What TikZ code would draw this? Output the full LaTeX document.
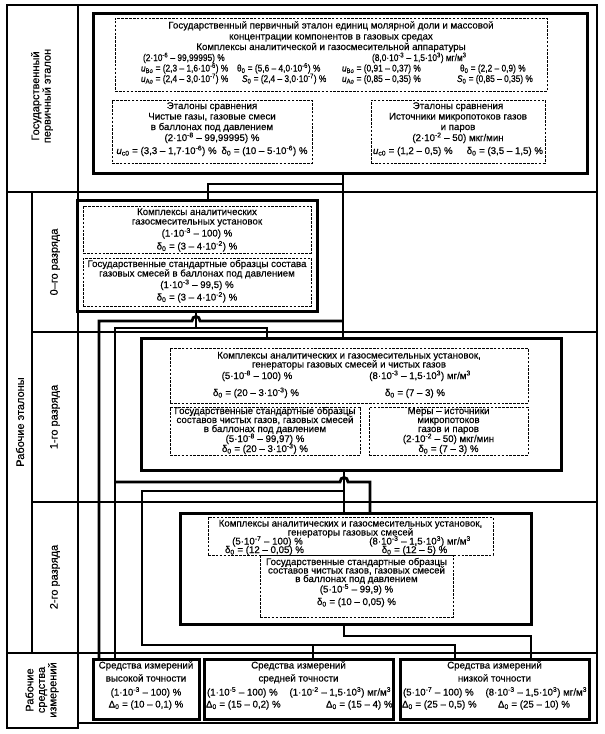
\documentclass[tikz,border=0pt]{standalone}
\usepackage{fontspec}
\setmainfont{Liberation Sans}[FakeBold=0.35]
\newfontfamily\cndfont{Liberation Sans}[FakeStretch=0.86,FakeBold=0.35]
\newcommand\xsp[1]{\textsuperscript{#1}}
\newcommand\xsb[1]{\textsubscript{#1}}
\newcommand\xTC[4]{\node[txt,anchor=base] (#1) at (#2,#3) {#4};}
\newcommand\xTW[4]{\node[txt,anchor=base west] (#1) at (#2,#3) {#4};}
\newcommand\xTE[4]{\node[txt,anchor=base east] (#1) at (#2,#3) {#4};}
\newcommand\xCW[4]{\node[txtc,anchor=base west] (#1) at (#2,#3) {#4};}
\newcommand\xBX[6]{\node[#2,minimum width={(#5-#3)*1pt},minimum height={(#6-#4)*1pt}] (#1) at ({(#3+#5)/2},{(#4+#6)/2}) {};}
\begin{document}
\begin{tikzpicture}[x=1pt,y=-1pt,
  txt/.style={inner sep=0pt,outer sep=0pt,font=\fontsize{9.7}{10}\selectfont},
  txtc/.style={inner sep=0pt,outer sep=0pt,font=\cndfont\fontsize{9.7}{10}\selectfont},
  lbl/.style={inner sep=0pt,outer sep=0pt,font=\fontsize{11}{11.5}\selectfont,rotate=90,align=center},
  bigbox/.style={draw,line width=3pt,inner sep=0pt,outer sep=0pt},
  dbox/.style={draw,line width=0.9pt,dash pattern=on 2.6pt off 1.3pt,inner sep=0pt,outer sep=0pt},
  gridline/.style={line width=1.5pt},
  conn/.style={line width=2.8pt,line join=miter},
]
\useasboundingbox (0,0) rectangle (605,734);
% ---------- table frame ----------
\draw[gridline] (78,723) -- (597,723) -- (597,5) -- (7,5) -- (7,728) -- (78,728) -- (78,5);
\draw[gridline] (7,192) -- (597,192);
\draw[gridline] (32,332) -- (597,332);
\draw[gridline] (32,502) -- (597,502);
\draw[gridline] (7,653) -- (597,653);
\draw[gridline] (32,192) -- (32,653);
% ---------- row labels ----------
\node[lbl] (L1) at (42,96) {Государственный\\первичный эталон};
\node[lbl] (L2) at (20,422) {Рабочие эталоны};
\node[lbl] (L3) at (55,262) {0–го разряда};
\node[lbl] (L4) at (55,417) {1-го разряда};
\node[lbl] (L5) at (55,577) {2-го разряда};
\node[lbl] (L6) at (42,690) {Рабочие\\средства\\измерений};
% ---------- boxes ----------
\xBX{top}{bigbox}{93}{13}{587}{173}
\xBX{td1}{dbox}{115}{18}{547}{91}
\xBX{td2}{dbox}{112}{100}{312}{163}
\xBX{td3}{dbox}{371}{100}{545}{163}
\xBX{z}{bigbox}{77}{200}{317}{311}
\xBX{zd1}{dbox}{83}{206}{311}{253}
\xBX{zd2}{dbox}{83}{258}{311}{306}
\xBX{r1}{bigbox}{141}{338}{561}{470}
\xBX{r1d1}{dbox}{170}{348}{528}{403}
\xBX{r1d2}{dbox}{170}{407}{360}{455}
\xBX{r1d3}{dbox}{369}{407}{528}{455}
\xBX{r2}{bigbox}{180}{513}{531}{624}
\xBX{r2d1}{dbox}{208}{517}{493}{555}
\xBX{r2d2}{dbox}{260}{555}{453}{617}
\xBX{b1}{bigbox}{93}{659}{199}{719}
\xBX{b2}{bigbox}{204}{659}{393}{719}
\xBX{b3}{bigbox}{400}{659}{589}{719}
% ---------- primary standard texts ----------
\xTC{t1}{331}{28.5}{Государственный первичный эталон единиц молярной доли и массовой}
\xTC{t2}{331}{39.5}{концентрации компонентов в газовых средах}
\xTC{t3}{331}{50}{Комплексы аналитической и газосмесительной аппаратуры}
\xCW{t4a}{143}{61}{(2·10\xsp{-6} – 99,99995) \%}
\xCW{t4b}{372}{61}{(8,0·10\xsp{-3} – 1,5·10\xsp{3}) мг/м\xsp{3}}
\xCW{t5a}{141}{71.5}{\textit{u}\xsb{Bo} = (2,3 – 1,6·10\xsp{-6}) \%}
\xCW{t5b}{237}{71.5}{θ\xsb{0} = (5,6 – 4,0·10\xsp{-6}) \%}
\xCW{t5c}{342}{71.5}{\textit{u}\xsb{Bo} = (0,91 – 0,37) \%}
\xCW{t5d}{460}{71.5}{θ\xsb{0} = (2,2 – 0,9) \%}
\xCW{t6a}{141}{82}{\textit{u}\xsb{Ao} = (2,4 – 3,0·10\xsp{-7}) \%}
\xCW{t6b}{242}{82}{\textit{S}\xsb{0} = (2,4 – 3,0·10\xsp{-7}) \%}
\xCW{t6c}{342}{82}{\textit{u}\xsb{Ao} = (0,85 – 0,35) \%}
\xCW{t6d}{457}{82}{\textit{S}\xsb{0} = (0,85 – 0,35) \%}
\xTC{u1}{212}{109}{Эталоны сравнения}
\xTC{u2}{212}{119.5}{Чистые газы, газовые смеси}
\xTC{u3}{212}{130}{в баллонах под давлением}
\xTC{u4}{212}{141}{(2·10\xsp{-8} – 99,99995) \%}
\xTC{u5}{212}{154}{\textit{u}\xsb{c0} = (3,3 – 1,7·10\xsp{-6}) \%\enspace δ\xsb{0} = (10 – 5·10\xsp{-6}) \%}
\xTC{v1}{458}{109}{Эталоны сравнения}
\xTC{v2}{458}{119.5}{Источники микропотоков газов}
\xTC{v3}{458}{130}{и паров}
\xTC{v4}{458}{141}{(2·10\xsp{-2} – 50) мкг/мин}
\xTW{v5a}{373}{154}{\textit{u}\xsb{c0} = (1,2 – 0,5) \%}
\xTE{v5b}{543}{154}{δ\xsb{0} = (3,5 – 1,5) \%}
% ---------- 0th rank ----------
\xTC{w1}{197}{215}{Комплексы аналитических}
\xTC{w2}{197}{224.5}{газосмесительных установок}
\xTC{w3}{197}{236.5}{(1·10\xsp{-3} – 100) \%}
\xTC{w4}{197}{249.5}{δ\xsb{0} = (3 – 4·10\xsp{-2}) \%}
\xTC{w5}{197}{267}{Государственные стандартные образцы состава}
\xTC{w6}{197}{276.5}{газовых смесей в баллонах под давлением}
\xTC{w7}{197}{288}{(1·10\xsp{-3} – 99,5) \%}
\xTC{w8}{197}{300.5}{δ\xsb{0} = (3 – 4·10\xsp{-2}) \%}
% ---------- 1st rank ----------
\xTC{x1}{349}{358.5}{Комплексы аналитических и газосмесительных установок,}
\xTC{x2}{349}{367.5}{генераторы газовых смесей и чистых газов}
\xTC{x3a}{257}{379}{(5·10\xsp{-8} – 100) \%}
\xTC{x3b}{420}{379}{(8·10\xsp{-3} – 1,5·10\xsp{3}) мг/м\xsp{3}}
\xTC{x4a}{256}{396}{δ\xsb{0} = (20 – 3·10\xsp{-3}) \%}
\xTC{x4b}{415}{396}{δ\xsb{0} = (7 – 3) \%}
\xTC{y1}{265}{414}{Государственные стандартные образцы}
\xTC{y2}{265}{423}{составов чистых газов, газовых смесей}
\xTC{y3}{265}{432}{в баллонах под давлением}
\xTC{y4}{265}{442}{(5·10\xsp{-8} – 99,97) \%}
\xTC{y5}{265}{452}{δ\xsb{0} = (20 – 3·10\xsp{-3}) \%}
\xTC{z1}{448.5}{414}{Меры – источники}
\xTC{z2}{448.5}{423}{микропотоков}
\xTC{z3}{448.5}{432}{газов и паров}
\xTC{z4}{448.5}{442}{(2·10\xsp{-2} – 50) мкг/мин}
\xTC{z5}{448.5}{452}{δ\xsb{0} = (7 – 3) \%}
% ---------- 2nd rank ----------
\xTC{a1}{350.5}{526.5}{Комплексы аналитических и газосмесительных установок,}
\xTC{a2}{350.5}{535.5}{генераторы газовых смесей}
\xTC{a3a}{267.5}{544.5}{(5·10\xsp{-7} – 100) \%}
\xTC{a3b}{420}{544.5}{(8·10\xsp{-3} – 1,5·10\xsp{3}) мг/м\xsp{3}}
\xTC{a4a}{264.5}{553}{δ\xsb{0} = (12 – 0,05) \%}
\xTC{a4b}{414.5}{553}{δ\xsb{0} = (12 – 5) \%}
\xTC{a5}{356.5}{565}{Государственные стандартные образцы}
\xTC{a6}{356.5}{573.5}{составов чистых газов, газовых смесей}
\xTC{a7}{356.5}{582}{в баллонах под давлением}
\xTC{a8}{356.5}{592.5}{(5·10\xsp{-5} – 99,9) \%}
\xTC{a9}{356.5}{605}{δ\xsb{0} = (10 – 0,05) \%}
% ---------- measuring instruments ----------
\xTC{c1}{146}{668.5}{Средства измерений}
\xTC{c2}{146}{681.5}{высокой точности}
\xTC{c3}{146}{695.5}{(1·10\xsp{-3} – 100) \%}
\xTC{c4}{146}{707.5}{Δ\xsb{0} = (10 – 0,1) \%}
\xTC{d1}{298.5}{668.5}{Средства измерений}
\xTC{d2}{298.5}{681.5}{средней точности}
\xTW{d3a}{207}{695.5}{(1·10\xsp{-5} – 100) \%}
\xTE{d3b}{391}{695.5}{(1·10\xsp{-2} – 1,5·10\xsp{3}) мг/м\xsp{3}}
\xTW{d4a}{206}{707.5}{Δ\xsb{0} = (15 – 0,2) \%}
\xTW{d4b}{326}{707.5}{Δ\xsb{0} = (15 – 4) \%}
\xTC{e1}{494.5}{668.5}{Средства измерений}
\xTC{e2}{494.5}{681.5}{низкой точности}
\xTW{e3a}{403}{695.5}{(5·10\xsp{-7} – 100) \%}
\xTE{e3b}{587}{695.5}{(8·10\xsp{-3} – 1,5·10\xsp{3}) мг/м\xsp{3}}
\xTW{e4a}{402}{707.5}{Δ\xsb{0} = (25 – 0,5) \%}
\xTW{e4b}{498}{707.5}{Δ\xsb{0} = (25 – 10) \%}
% ---------- connectors ----------
\coordinate (cA) at (343,184);
\coordinate (cB) at (208,184);
\draw[conn] (cA |- top.south) -- (cA |- r1.north);
\draw[conn] (cA) -- (cB) -- (cB |- z.north);
\coordinate (cC1) at (343,321);
\coordinate (cH1) at (196,321);
\coordinate (cC2) at (99,321);
\draw[conn] (cC1) -- ([xshift=4pt]cH1) .. controls +(0,-6) and +(0,-6) .. ([xshift=-4pt]cH1) -- (cC2) -- (cC2 |- b1.north);
\coordinate (cD0) at (196,328);
\coordinate (cD1) at (115,328);
\coordinate (cD2) at (267,328);
\draw[conn] (cD0 |- z.south) -- (cD0);
\draw[conn] (cD1 |- b1.north) -- (cD1) -- (cD2) -- (cD2 |- r1.north);
\coordinate (cE1) at (115,482);
\coordinate (cH2) at (344,482);
\coordinate (cE2) at (370,482);
\draw[conn] (cE1) -- ([xshift=-4pt]cH2) .. controls +(0,-6) and +(0,-6) .. ([xshift=4pt]cH2) -- (cE2) -- (cE2 |- r2.north);
\coordinate (cF0) at (344,491);
\coordinate (cF1) at (142,491);
\coordinate (cF2) at (142,645);
\coordinate (cF3) at (455,645);
\coordinate (cF4) at (313,645);
\draw[conn] (cF0 |- r1.south) -- (cF0 |- r2.north);
\draw[conn] (cF0) -- (cF1) -- (cF2) -- (cF3) -- (cF3 |- b3.north);
\draw[conn] (cF4) -- (cF4 |- b2.north);
\coordinate (cG0) at (344,636);
\coordinate (cG1) at (531,636);
\draw[conn] (cG0 |- r2.south) -- (cG0) -- (cG1) -- (cG1 |- b3.north);
\end{tikzpicture}
\end{document}
